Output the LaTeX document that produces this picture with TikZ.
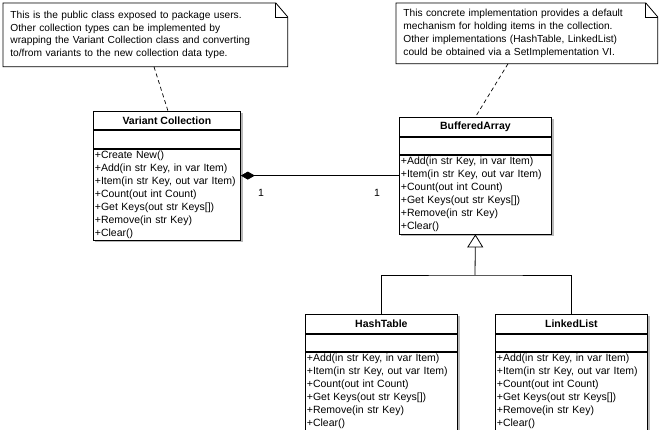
\documentclass[tikz,border=0pt]{standalone}
\usepackage{fontspec}
\setmainfont{Liberation Sans}
\usetikzlibrary{arrows.meta,backgrounds,calc}
\begin{document}
\begin{tikzpicture}[x=1pt,y=-1pt,line width=0.8pt,
  ctitle/.style={draw,fill=white,anchor=north west,inner sep=0pt,minimum height=19pt,
    font=\bfseries\fontsize{10.5}{13}\selectfont},
  cempty/.style={draw,fill=white,anchor=north west,inner sep=0pt,minimum height=17pt},
  cmeth/.style={draw,fill=white,anchor=north west,inner xsep=1.5pt,inner ysep=0pt,align=left,
    font=\fontsize{10.5}{13}\selectfont},
  notetext/.style={anchor=north west,inner xsep=7pt,inner ysep=0pt,align=left,
    font=\fontsize{10.2}{12.8}\selectfont},
  noteline/.style={draw=black,line width=0.8pt},
  shade/.style={fill=gray!55},
  anchorline/.style={dashed,dash pattern=on 4pt off 3pt,line width=0.7pt},
  mult/.style={font=\fontsize{10.5}{13}\selectfont,inner sep=0pt}]
\useasboundingbox (0,0) rectangle (660,430);

% ---------- notes ----------
\node[notetext,minimum width=284pt,minimum height=63pt,text width=270pt] (n1) at (3,3)
 {This is the public class exposed to package users.\\
  Other collection types can be implemented by\\
  wrapping the Variant Collection class and converting\\
  to/from variants to the new collection data type.};
\node[notetext,minimum width=261pt,minimum height=60pt,text width=247pt] (n2) at (396,3)
 {This concrete implementation provides a default\\
  mechanism for holding items in the collection.\\
  Other implementations (HashTable, LinkedList)\\
  could be obtained via a SetImplementation VI.};

\foreach \n in {n1,n2}{
  \begin{scope}[on background layer]
    \fill[shade,shift={(2,2)}] (\n.north west) -- ([xshift=-12pt]\n.north east) -- ([yshift=-14pt]\n.north east)
      -- (\n.south east) -- (\n.south west) -- cycle;
    \fill[white] (\n.north west) -- ([xshift=-12pt]\n.north east) -- ([yshift=-14pt]\n.north east)
      -- (\n.south east) -- (\n.south west) -- cycle;
  \end{scope}
  \draw[noteline] (\n.north west) -- ([xshift=-12pt]\n.north east) -- ([yshift=-14pt]\n.north east)
      -- (\n.south east) -- (\n.south west) -- cycle;
  \draw[noteline] ([xshift=-12pt]\n.north east) -- ([xshift=-12pt,yshift=-14pt]\n.north east)
      -- ([yshift=-14pt]\n.north east);
}

% ---------- classes ----------
% Variant Collection
\node[ctitle,minimum width=147pt,minimum height=18pt] (vct) at (93,111) {Variant Collection};
\node[cempty,minimum width=147pt,minimum height=18pt] (vce) at (vct.south west) {};
\node[cmeth,minimum width=147pt,text width=144pt,minimum height=91pt] (vcm) at (vce.south west)
 {+Create New()\\+Add(in str Key, in var Item)\\+Item(in str Key, out var Item)\\+Count(out int Count)\\+Get Keys(out str Keys[])\\+Remove(in str Key)\\+Clear()};

% BufferedArray
\node[ctitle,minimum width=152pt] (bat) at (399,117) {BufferedArray};
\node[cempty,minimum width=152pt] (bae) at (bat.south west) {};
\node[cmeth,minimum width=152pt,text width=149pt,minimum height=79pt] (bam) at (bae.south west)
 {+Add(in str Key, in var Item)\\+Item(in str Key, out var Item)\\+Count(out int Count)\\+Get Keys(out str Keys[])\\+Remove(in str Key)\\+Clear()};

% HashTable
\node[ctitle,minimum width=152pt] (htt) at (305,314) {HashTable};
\node[cempty,minimum width=152pt] (hte) at (htt.south west) {};
\node[cmeth,minimum width=152pt,text width=149pt,minimum height=78pt] (htm) at (hte.south west)
 {+Add(in str Key, in var Item)\\+Item(in str Key, out var Item)\\+Count(out int Count)\\+Get Keys(out str Keys[])\\+Remove(in str Key)\\+Clear()};

% LinkedList
\node[ctitle,minimum width=152pt] (llt) at (495,314) {LinkedList};
\node[cempty,minimum width=152pt] (lle) at (llt.south west) {};
\node[cmeth,minimum width=152pt,text width=149pt,minimum height=78pt] (llm) at (lle.south west)
 {+Add(in str Key, in var Item)\\+Item(in str Key, out var Item)\\+Count(out int Count)\\+Get Keys(out str Keys[])\\+Remove(in str Key)\\+Clear()};

\begin{scope}[on background layer]
  \foreach \t/\m in {vct/vcm,bat/bam,htt/htm,llt/llm}{
    \fill[shade] ([shift={(2,2)}]\t.north west) rectangle ([shift={(2,2)}]\m.south east);
  }
\end{scope}

% ---------- note anchors ----------
\draw[anchorline] ($(n1.south west)+(151,0)$) -- ($(vct.north west)+(75,0)$);
\draw[anchorline] ($(n2.south west)+(112,0)$) -- (bat.north);

% ---------- composition ----------
\draw[{Diamond[length=14pt,width=8pt]}-] ($(vcm.north east)+(0,27)$) -- ($(bam.north west)+(0,21)$);
\node[mult] (m1) at (261,193) {1};
\node[mult] (m2) at (377,193) {1};

% ---------- generalization ----------
\coordinate (jn) at (475,275);
\draw[-{Triangle[open,length=13pt,width=16pt]}] (jn) -- (bam.south);
\draw (htt.north) |- (jn) -| (llt.north);
\end{tikzpicture}
\end{document}
